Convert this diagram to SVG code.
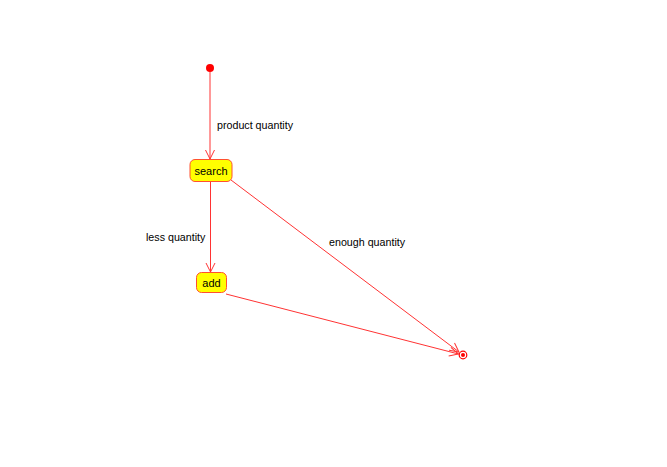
<svg xmlns="http://www.w3.org/2000/svg" width="667" height="467" viewBox="0 0 667 467">
<style>
.e{stroke:#ff3333;stroke-width:1;fill:none}
.n{fill:#ffff00;stroke:#ff5030;stroke-width:1}
.t{font-family:"Liberation Sans",Arial,sans-serif;font-size:10.7px;fill:#000}
.c{text-anchor:middle;font-size:11px}
</style>
<defs>
<marker id="a" markerWidth="12" markerHeight="12" refX="10" refY="6" orient="auto" markerUnits="userSpaceOnUse">
<path d="M1,1.5 L10,6 L1,10.5" fill="none" stroke="#ff3333" stroke-width="1"/>
</marker>
</defs>
<rect width="667" height="467" fill="#fff"/>
<g id="connectors">
<line class="e" x1="210" y1="72" x2="210" y2="159" marker-end="url(#a)"/>
<line class="e" x1="210.5" y1="182" x2="210.5" y2="272" marker-end="url(#a)"/>
<line class="e" x1="231" y1="180" x2="459" y2="352" marker-end="url(#a)"/>
<line class="e" x1="226" y1="294" x2="458.5" y2="354" marker-end="url(#a)"/>
<text class="t" x="217" y="129">product quantity</text>
<text class="t" x="146" y="241">less quantity</text>
<text class="t" x="329" y="246">enough quantity</text>
</g>
<g id="start"><circle cx="210" cy="68" r="4" fill="#ff0000"/></g>
<g id="search"><rect class="n" x="190" y="159.5" width="42" height="22" rx="5"/><text class="t c" x="211" y="174.5">search</text></g>
<g id="add"><rect class="n" x="196.5" y="272.5" width="30" height="20" rx="5"/><text class="t c" x="211.5" y="287">add</text></g>
<g id="end"><circle cx="463" cy="355" r="3.8" fill="none" stroke="#ff0000" stroke-width="1.2"/><circle cx="463" cy="355" r="2" fill="#ff0000"/></g>
</svg>
